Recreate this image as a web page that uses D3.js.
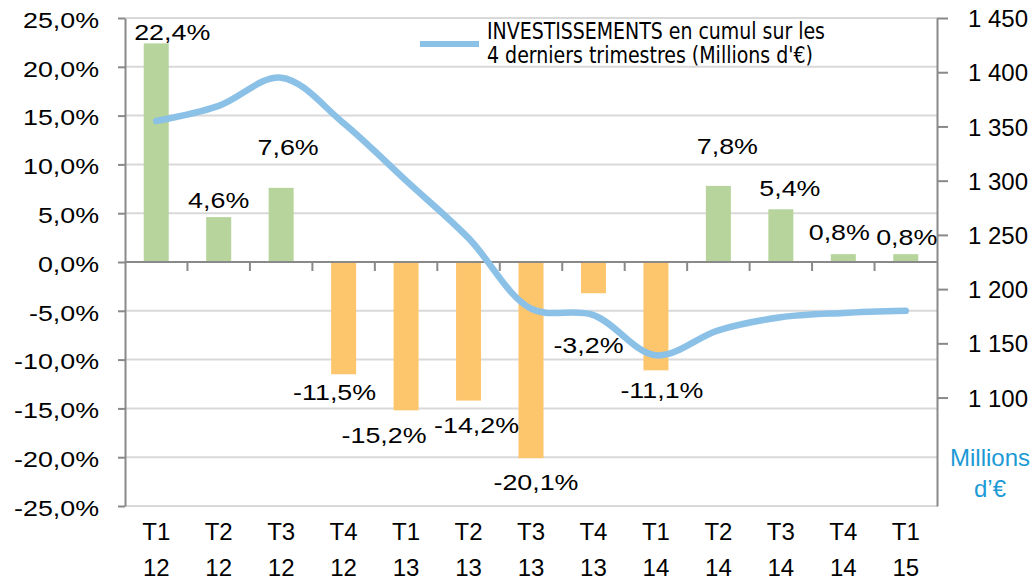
<!DOCTYPE html>
<html>
<head>
<meta charset="utf-8">
<script src="https://cdn.jsdelivr.net/npm/d3@7"></script>
<style>
  body { margin: 0; background: #fff; }
  text { font-family: "Liberation Sans", Arial, sans-serif; fill: #000; }
</style>
</head>
<body>
<div id="main"></div>
<script>
// quarters (two-line labels)
var quarters = ["T1", "T2", "T3", "T4", "T1", "T2", "T3", "T4", "T1", "T2", "T3", "T4", "T1"];
var years = ["12", "12", "12", "12", "13", "13", "13", "13", "14", "14", "14", "14", "15"];
// yearly variation, %
var variation = [22.4, 4.6, 7.6, -11.5, -15.2, -14.2, -20.1, -3.2, -11.1, 7.8, 5.4, 0.8, 0.8];
// investments, cumul over last 4 quarters (millions EUR)
var investments = [1355, 1369, 1395, 1353, 1300, 1247, 1182, 1176, 1139, 1162, 1174, 1178, 1180];
var leftTicks = [-25, -20, -15, -10, -5, 0, 5, 10, 15, 20, 25];
var rightTicks = [1100, 1150, 1200, 1250, 1300, 1350, 1400, 1450];
var legendLines = ["INVESTISSEMENTS en cumul sur les", "4 derniers trimestres (Millions d'\u20ac)"];

// hand placed data labels (dx, dy from bar end, px)
var labelNudge = [[16, -3], [0, -9], [7, -33], [-9, 26], [-22, 33], [8, 32], [5, 32],
                  [-5, 60], [6, 28], [9, -32], [9, -13], [-4, -14], [1, -9]];

const width = 1035;
const height = 582;
const plotLeft = 125, plotRight = 937, plotTop = 18, plotBottom = 506;
const stretchX = 1.22;

const cats = quarters.map((q, i) => i);

const svg = d3.select("#main")
    .append("svg")
    .attr("width", width)
    .attr("height", height);

svg.append("rect").attr("width", width).attr("height", height).attr("fill", "#fff");

const x = d3.scaleBand().domain(cats).range([plotLeft, plotRight]);
const y = d3.scaleLinear().domain([-25, 25]).range([plotBottom, plotTop]);
const y2 = d3.scaleLinear().domain([1000, 1450]).range([plotBottom, plotTop]);

const barW = 25;

function stretch(sel, k) {
    sel.each(function () {
        var t = d3.select(this);
        var tx = +t.attr("x") || 0;
        t.attr("x", tx / k).attr("transform", "scale(" + k + ",1)");
    });
}

function pct(d) {
    return d.toFixed(1).replace(".", ",") + "%";
}

// gridlines
svg.append("g")
    .selectAll("line")
    .data(leftTicks.filter(d => d != 0))
    .enter()
    .append("line")
    .attr("x1", plotLeft)
    .attr("x2", plotRight)
    .attr("y1", d => y(d))
    .attr("y2", d => y(d))
    .attr("stroke", "#d9d9d9")
    .attr("stroke-width", 2);

// bars
svg.append("g")
    .selectAll("rect")
    .data(variation)
    .enter()
    .append("rect")
    .attr("x", (d, i) => x(i) + x.bandwidth() / 2 - barW / 2)
    .attr("y", d => y(Math.max(0, d)))
    .attr("width", barW)
    .attr("height", d => Math.abs(y(d) - y(0)))
    .attr("fill", d => d >= 0 ? "#b6d49b" : "#fdc66d");

// x axis at zero
const xAxisG = svg.append("g").attr("stroke", "#898989").attr("stroke-width", 2);
xAxisG.append("line")
    .attr("x1", plotLeft).attr("x2", plotRight)
    .attr("y1", y(0)).attr("y2", y(0));
xAxisG.selectAll("line.tick")
    .data(cats.slice(1))
    .enter()
    .append("line")
    .attr("class", "tick")
    .attr("x1", d => x(d)).attr("x2", d => x(d))
    .attr("y1", y(0)).attr("y2", y(0) + 9);

// left axis
const yAxis = d3.axisLeft(y)
    .tickValues(leftTicks)
    .tickFormat(pct)
    .tickSize(7)
    .tickSizeOuter(0);
const yAxisG = svg.append("g")
    .attr("transform", "translate(" + plotLeft + ",0)")
    .call(yAxis);
yAxisG.select(".domain").attr("stroke", "#898989").attr("stroke-width", 2);
yAxisG.selectAll(".tick line").attr("stroke", "#898989").attr("stroke-width", 2);
yAxisG.selectAll(".tick text")
    .attr("font-size", 22)
    .attr("font-family", "Liberation Sans, Arial, sans-serif")
    .attr("fill", "#000")
    .attr("x", -26)
    .attr("dy", "0.42em");
stretch(yAxisG.selectAll(".tick text"), stretchX);

// right axis
const y2Axis = d3.axisRight(y2)
    .tickValues(rightTicks)
    .tickFormat(d => d3.format(",")(d).replace(",", " "))
    .tickSize(11)
    .tickSizeOuter(0);
const y2AxisG = svg.append("g")
    .attr("transform", "translate(" + plotRight + ",0)")
    .call(y2Axis);
y2AxisG.select(".domain").attr("stroke", "#898989").attr("stroke-width", 2);
y2AxisG.selectAll(".tick line").attr("stroke", "#898989").attr("stroke-width", 2);
y2AxisG.selectAll(".tick text")
    .attr("font-size", 24)
    .attr("font-family", "Liberation Sans, Arial, sans-serif")
    .attr("fill", "#1d9ad5")
    .attr("x", 31)
    .attr("dy", "0.36em");

// right axis unit
svg.append("text")
    .attr("x", 990).attr("y", 466)
    .attr("text-anchor", "middle")
    .attr("font-size", 24)
    .style("fill", "#1d9ad5")
    .text("Millions");
svg.append("text")
    .attr("x", 990).attr("y", 497)
    .attr("text-anchor", "middle")
    .attr("font-size", 24)
    .style("fill", "#1d9ad5")
    .text("d\u2019\u20ac");

// investments line
const line = d3.line()
    .x((d, i) => x(i) + x.bandwidth() / 2)
    .y(d => y2(d))
    .curve(d3.curveCatmullRom.alpha(0.5));
svg.append("path")
    .datum(investments)
    .attr("d", line)
    .attr("fill", "none")
    .attr("stroke", "#8cc1e7")
    .attr("stroke-width", 6.5)
    .attr("stroke-linecap", "round");

// bar labels
const labels = svg.append("g")
    .selectAll("text")
    .data(variation)
    .enter()
    .append("text")
    .attr("x", (d, i) => x(i) + x.bandwidth() / 2 + labelNudge[i][0])
    .attr("y", (d, i) => y(d) + labelNudge[i][1])
    .attr("text-anchor", "middle")
    .attr("font-size", 22)
    .text(pct);
stretch(labels, stretchX);

// category labels
const catG = svg.append("g").attr("font-size", 24);
catG.selectAll("text.q")
    .data(quarters)
    .enter()
    .append("text")
    .attr("class", "q")
    .attr("x", (d, i) => x(i) + x.bandwidth() / 2)
    .attr("y", 540)
    .attr("text-anchor", "middle")
    .text(d => d);
catG.selectAll("text.y")
    .data(years)
    .enter()
    .append("text")
    .attr("class", "y")
    .attr("x", (d, i) => x(i) + x.bandwidth() / 2)
    .attr("y", 576)
    .attr("text-anchor", "middle")
    .text(d => d);

// legend
const legend = svg.append("g");
legend.append("line")
    .attr("x1", 420).attr("x2", 479)
    .attr("y1", 44).attr("y2", 44)
    .attr("stroke", "#8cc1e7")
    .attr("stroke-width", 6);
legend.selectAll("text")
    .data(legendLines)
    .enter()
    .append("text")
    .attr("x", 487)
    .attr("y", (d, i) => 39 + i * 24)
    .attr("font-size", 23)
    .style("font-family", "'Liberation Sans Narrow', 'DejaVu Sans Condensed', sans-serif")
    .attr("textLength", (d, i) => i == 0 ? 338 : 326)
    .attr("lengthAdjust", "spacingAndGlyphs")
    .text(d => d);
</script>
</body>
</html>
